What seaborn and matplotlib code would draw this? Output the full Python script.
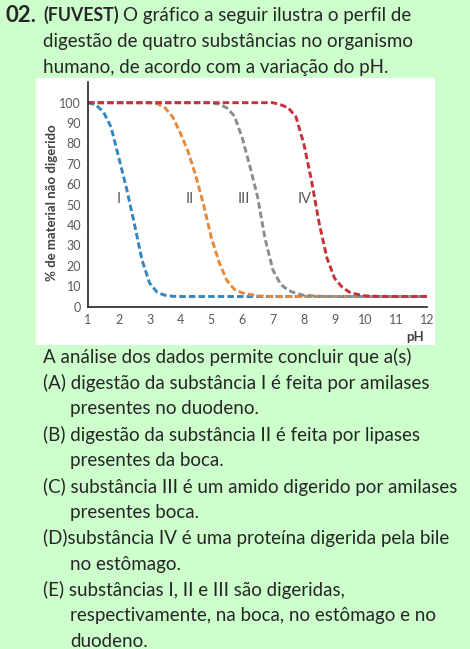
import pandas as pd
import matplotlib
matplotlib.use("Agg")
import matplotlib.pyplot as plt
import seaborn as sns
from matplotlib.patches import Rectangle

# curvas: pH x % de material não digerido
ph_I = [1.0, 1.25, 1.5, 1.75, 2.0, 2.25, 2.5, 2.75, 3.0, 3.25, 3.5, 3.75, 4.0, 5, 6, 7, 8, 9, 10, 11, 12]
val_I = [100, 99, 95.5, 88, 73, 58, 41, 23, 11.5, 7, 5.6, 5.1, 5, 5, 5, 5, 5, 5, 5, 5, 5]

ph_II = [1, 2, 3, 3.25, 3.5, 3.75, 4.0, 4.25, 4.5, 4.75, 5.0, 5.25, 5.5, 5.75, 6.0, 6.5, 7, 8, 9, 10, 11, 12]
val_II = [100, 100, 100, 99.5, 97.5, 93, 85, 76, 64, 50, 34, 22, 13, 8.5, 6.8, 5.3, 5, 5, 5, 5, 5, 5]

ph_III = [1, 2, 3, 4, 5.0, 5.25, 5.5, 5.75, 6.0, 6.25, 6.5, 6.75, 7.0, 7.25, 7.5, 7.75, 8.0, 8.5, 9, 10, 11, 12]
val_III = [100, 100, 100, 100, 100, 99.3, 97.5, 93.5, 83, 69, 54, 33, 18, 11, 8, 6.5, 5.6, 5.1, 5, 5, 5, 5]

ph_IV = [1, 2, 3, 4, 5, 6, 7.0, 7.25, 7.5, 7.75, 8.0, 8.25, 8.5, 8.75, 9.0, 9.25, 9.5, 9.75, 10.0, 10.5, 11, 12]
val_IV = [100, 100, 100, 100, 100, 100, 100, 99, 97.5, 93, 80, 62, 41, 24, 14, 9.5, 7, 6, 5.3, 5, 5, 5]

nomes = ["I", "II", "III", "IV"]
cores = ["#3486C0", "#E5883A", "#8C8C8C", "#C8303A"]
pos_rotulo = [2.0, 4.3, 6.05, 8.02]

df = pd.concat([
    pd.DataFrame({"pH": ph_I, "valor": val_I, "subst": "I"}),
    pd.DataFrame({"pH": ph_II, "valor": val_II, "subst": "II"}),
    pd.DataFrame({"pH": ph_III, "valor": val_III, "subst": "III"}),
    pd.DataFrame({"pH": ph_IV, "valor": val_IV, "subst": "IV"}),
])

sns.set_style("white")
plt.rcParams["font.family"] = ["Lato", "DejaVu Sans"]

fig = plt.figure(figsize=(4.70, 6.49), dpi=100)
fig.patch.set_facecolor("#CCFFCC")

# fundo branco do gráfico
fig.patches.append(Rectangle((36 / 470, 1 - 345 / 649), 399 / 470, 267 / 649,
                             transform=fig.transFigure, facecolor="white",
                             edgecolor="none", zorder=-5))

ax = fig.add_axes([88 / 470, (649 - 306.7) / 649, 339 / 470, 224.4 / 649])
ax.set_facecolor("none")
ax.set_zorder(2)

sns.lineplot(data=df, x="pH", y="valor", hue="subst", hue_order=nomes,
             palette=cores, estimator=None, sort=True, linewidth=2.1,
             legend=False, ax=ax)
for ln in ax.get_lines():
    ln.set_dashes((2.2, 1.1))
    ln.set_dash_capstyle("butt")

for nome, xp in zip(nomes, pos_rotulo):
    ax.text(xp, 53, nome, ha="center", va="center", fontsize=10.5, color="#595959")

ax.set_xlim(1, 12)
ax.set_ylim(0, 110)
ax.set_xticks(range(1, 13))
ax.set_yticks(range(0, 101, 10))
ax.tick_params(axis="both", length=0, labelsize=9, labelcolor="#595959", pad=5)
for s in ["top", "right"]:
    ax.spines[s].set_visible(False)
for s in ["left", "bottom"]:
    ax.spines[s].set_color("#262626")
    ax.spines[s].set_linewidth(1.2)
ax.set_xlabel("")
ax.set_ylabel("% de material não digerido", fontsize=9.5, fontweight="bold", color="#404040")
ax.yaxis.set_label_coords(-0.089, 0.462)
fig.text(415 / 470, 1 - 337 / 649, "pH", fontsize=9.5, fontweight="bold",
         color="#404040", ha="center", va="center")

# enunciado
tam = 13.5
fig.text(5 / 470, 1 - 15 / 649, "02.", fontsize=16, fontweight="bold", va="center")
fig.text(43 / 470, 1 - 15 / 649, "(FUVEST)", fontsize=12.8, fontweight="bold", va="center")
fig.text(123 / 470, 1 - 15 / 649, "O gráfico a seguir ilustra o perfil de", fontsize=tam, va="center")
fig.text(43 / 470, 1 - 42 / 649, "digestão de quatro substâncias no organismo", fontsize=tam, va="center")
fig.text(43 / 470, 1 - 68 / 649, "humano, de acordo com a variação do pH.", fontsize=tam, va="center")

linhas = [
    (43, "A análise dos dados permite concluir que a(s)"),
    (43, "(A) digestão da substância I é feita por amilases"),
    (70, "presentes no duodeno."),
    (43, "(B) digestão da substância II é feita por lipases"),
    (70, "presentes da boca."),
    (43, "(C) substância III é um amido digerido por amilases"),
    (70, "presentes boca."),
    (43, "(D)substância IV é uma proteína digerida pela bile"),
    (70, "no estômago."),
    (43, "(E) substâncias I, II e III são digeridas,"),
    (70, "respectivamente, na boca, no estômago e no"),
    (70, "duodeno."),
]
for i, (xp, t) in enumerate(linhas):
    fig.text(xp / 470, 1 - (357 + 25.9 * i) / 649, t, fontsize=tam, va="center")

fig.savefig("out.png", dpi=100, facecolor=fig.get_facecolor())
